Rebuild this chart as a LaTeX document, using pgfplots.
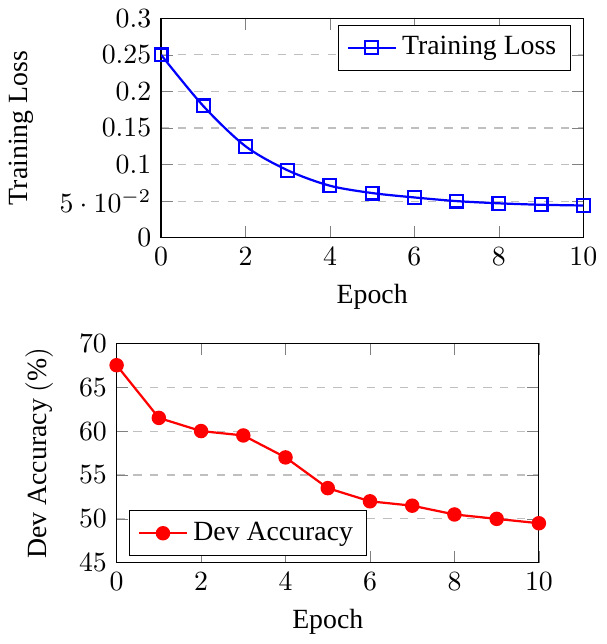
\documentclass[border=0pt]{standalone}
\usepackage{fontspec}
\setmainfont{Liberation Serif}
\usepackage{pgfplots}
\pgfplotsset{compat=1.18}

\pgfplotsset{
  lossstyle/.style={
    scale only axis,
    width=152pt, height=79pt,
    xmin=0, xmax=10,
    xtick={0,2,...,10},
    ymajorgrids=true,
    grid style={dashed, gray!50},
    xlabel=Epoch,
    ylabel shift=2.5pt,
    legend cell align=left,
  }
}

\begin{document}
\begin{tikzpicture}
  \begin{axis}[lossstyle,
      ymin=0, ymax=0.3,
      ytick={0,0.05,...,0.3},
      ylabel={Training Loss},
      legend pos=north east]
    \addplot[blue, thick, smooth, mark=square, mark size=2.3pt, mark options={solid}]
      coordinates {(0,0.25) (1,0.18) (2,0.125) (3,0.092) (4,0.071) (5,0.061)
        (6,0.055) (7,0.05) (8,0.047) (9,0.045) (10,0.044)};
    \addlegendentry{Training Loss}
  \end{axis}
  \begin{axis}[lossstyle,
      at={(-16pt,-117pt)},
      ymin=45, ymax=70,
      ytick={45,50,...,70},
      ylabel={Dev Accuracy $(\%)$},
      legend pos=south west]
    \addplot[red, thick, mark=*, mark size=2.2pt]
      coordinates {(0,67.5) (1,61.5) (2,60) (3,59.5) (4,57) (5,53.5)
        (6,52) (7,51.5) (8,50.5) (9,50) (10,49.5)};
    \addlegendentry{Dev Accuracy}
  \end{axis}
\end{tikzpicture}
\end{document}
